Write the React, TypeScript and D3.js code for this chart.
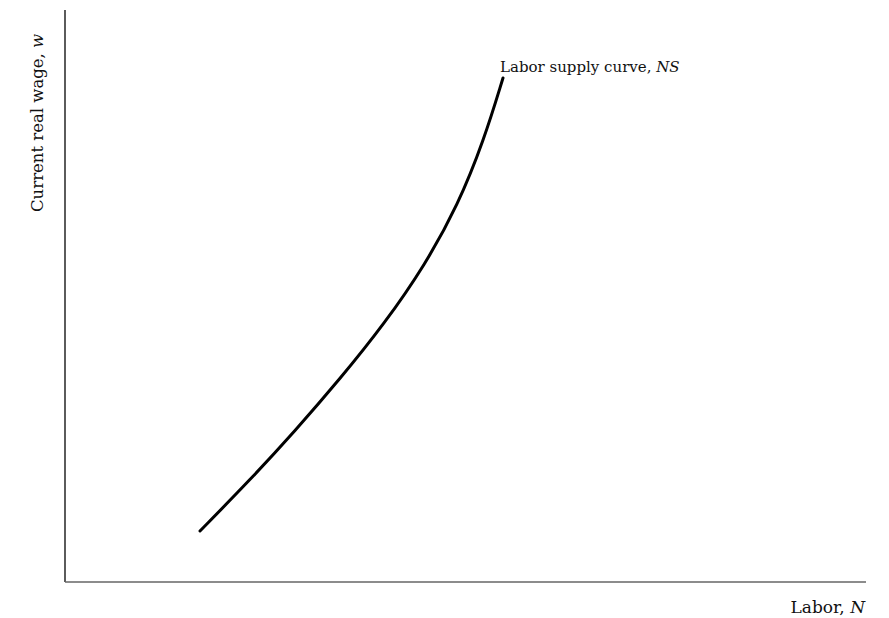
import React from "react";
import * as d3 from "d3";

// Labor supply curve points (labor N, real wage w) in arbitrary units
const laborN = [135, 185, 230, 275, 320, 360, 393, 419, 438];
const wageW = [51, 102, 151, 203, 259, 317, 377, 442, 504];

const curveLabel = "Labor supply curve, ";
const curveLabelItalic = "NS";
const xLabel = "Labor, ";
const xLabelItalic = "N";
const yLabel = "Current real wage, ";
const yLabelItalic = "w";

const W = 889;
const H = 618;

export default function App() {
  const x = d3.scaleLinear().domain([0, 800]).range([65, 865]);
  const y = d3.scaleLinear().domain([0, 572]).range([582, 10]);
  const pts: [number, number][] = laborN.map((n, i) => [n, wageW[i]]);
  const line = d3
    .line<[number, number]>()
    .x((d) => x(d[0]))
    .y((d) => y(d[1]))
    .curve(d3.curveBasis);
  const font = "'DejaVu Serif', 'Liberation Serif', serif";
  const last = pts[pts.length - 1];
  return (
    <svg
      width={W}
      height={H}
      style={{ position: "absolute", left: 0, top: 0, background: "#fff" }}
    >
      <line x1={x(0)} y1={y(0)} x2={x(0)} y2={y(572)} stroke="#333" strokeWidth={1.6} />
      <line x1={x(0)} y1={y(0)} x2={x(801)} y2={y(0)} stroke="#666" strokeWidth={1.6} />
      <path d={line(pts) || ""} fill="none" stroke="#000" strokeWidth={3} strokeLinecap="round" />
      <text
        x={x(last[0]) - 3}
        y={y(last[1]) - 6}
        fontFamily={font}
        fontSize={15}
        fill="#111"
      >
        {curveLabel}
        <tspan fontStyle="italic">{curveLabelItalic}</tspan>
      </text>
      <text
        x={865}
        y={613}
        fontFamily={font}
        fontSize={17}
        fill="#111"
        textAnchor="end"
      >
        {xLabel}
        <tspan fontStyle="italic">{xLabelItalic}</tspan>
      </text>
      <text
        transform="translate(43,212) rotate(-90)"
        fontFamily={font}
        fontSize={16.5}
        fill="#111"
      >
        {yLabel}
        <tspan fontStyle="italic">{yLabelItalic}</tspan>
      </text>
    </svg>
  );
}
